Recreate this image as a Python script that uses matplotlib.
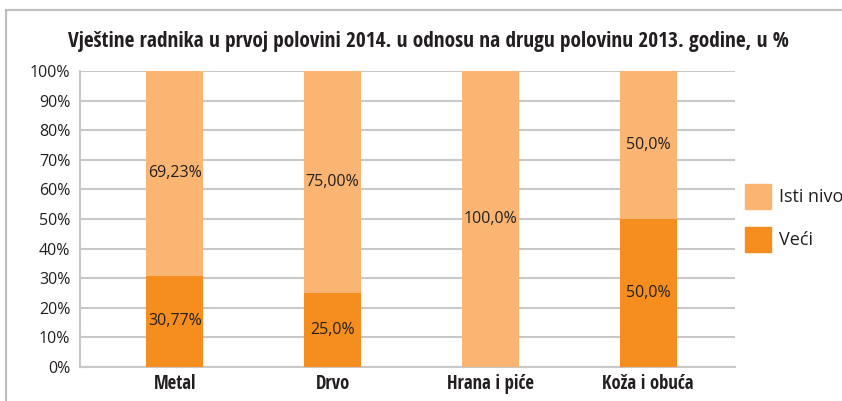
import matplotlib
matplotlib.use('Agg')
from matplotlib import pyplot as plt
from matplotlib.patches import Rectangle, Patch

categories = ['Metal', 'Drvo', 'Hrana i piće', 'Koža i obuća']
veci = [30.77, 25.0, 0.0, 50.0]
isti_nivo = [69.23, 75.0, 100.0, 50.0]
veci_labels = ['30,77%', '25,0%', '', '50,0%']
isti_labels = ['69,23%', '75,00%', '100,0%', '50,0%']
y_ticks = list(range(0, 101, 10))
y_tick_labels = ['%d%%' % t for t in y_ticks]

c_light = '#FBB573'
c_dark = '#F68E1F'
c_text = '#231F20'
c_grid = '#C8C8C8'

plt.rcParams['font.family'] = ['Open Sans', 'DejaVu Sans']
cond = ['Open Sans Condensed', 'DejaVu Sans']

fig = plt.figure(figsize=(8.42, 4.01), dpi=100)
ax = fig.add_axes([80 / 842, 34 / 401, 655 / 842, 296 / 401])

# frame round the chart
fig.patches.append(Rectangle((6 / 842, -0.1), 1.2, 0.975 + 0.1, transform=fig.transFigure,
                             fill=False, edgecolor='#BEBEBE', linewidth=1.6))

x = list(range(len(categories)))
w = 0.36
ax.bar(x, veci, width=w, color=c_dark, zorder=3)
ax.bar(x, isti_nivo, width=w, bottom=veci, color=c_light, zorder=3)

for i in x:
    if veci_labels[i]:
        ax.text(i, veci[i] / 2, veci_labels[i], ha='center', va='center',
                fontsize=11.5, color=c_text, zorder=4)
    ax.text(i, veci[i] + isti_nivo[i] / 2, isti_labels[i], ha='center', va='center',
            fontsize=11.5, color=c_text, zorder=4)

ax.set_xlim(-0.6, 3.55)
ax.set_ylim(0, 100)
ax.set_yticks(y_ticks, y_tick_labels)
ax.set_xticks(x, categories)
for lab in ax.get_yticklabels():
    lab.set_fontsize(11.5)
    lab.set_color(c_text)
for lab in ax.get_xticklabels():
    lab.set_family(cond)
    lab.set_fontweight('bold')
    lab.set_fontsize(13.5)
    lab.set_color(c_text)
ax.tick_params(length=0, pad=7)
ax.tick_params(axis='x', pad=5)

ax.yaxis.grid(True, color=c_grid, linewidth=1.5, zorder=0)
for s in ['top', 'right']:
    ax.spines[s].set_visible(False)
for s in ['left', 'bottom']:
    ax.spines[s].set_color(c_grid)
    ax.spines[s].set_linewidth(1.5)

handles = [Patch(color=c_light, label='Isti nivo'), Patch(color=c_dark, label='Veći')]
leg = fig.legend(handles=handles, loc='center left', bbox_to_anchor=(729 / 842, 1 - 218 / 401),
                 frameon=False, handlelength=1.4, handleheight=1.8,
                 labelspacing=0.95, handletextpad=0.45, prop={'size': 13})
for t in leg.get_texts():
    t.set_color(c_text)

fig.text(428 / 842, 1 - 42 / 401, 'Vještine radnika u prvoj polovini 2014. u odnosu na drugu polovinu 2013. godine, u %',
         ha='center', va='center', fontsize=15.4, fontweight='bold', color=c_text, family=cond)

plt.savefig('out.png', dpi=100)
